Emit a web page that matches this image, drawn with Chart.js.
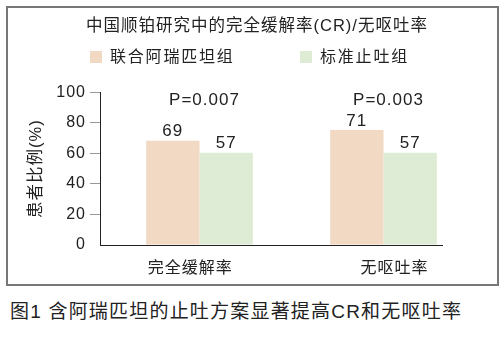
<!DOCTYPE html>
<html>
<head>
<meta charset="utf-8">
<script src="https://cdn.jsdelivr.net/npm/chart.js@4/dist/chart.umd.min.js"></script>
<style>
  html, body { margin: 0; padding: 0; background: #fff; width: 504px; height: 357px; overflow: hidden; }
  body { position: relative; font-family: "Liberation Sans", "Noto Sans CJK SC", sans-serif; color: #222; }
  #frame { position: absolute; left: 6px; top: 6px; width: 489px; height: 276px; border: 2px solid #777; }
  #wrap { position: absolute; left: 8px; top: 8px; width: 498px; height: 276px; }
  #legend { position: absolute; left: 90px; top: 47px; display: flex; }
  #legend .item { width: 210px; display: flex; align-items: center; height: 20px; }
  #legend .box { display: inline-block; width: 12px; height: 12px; margin-right: 8px; }
  #legend .txt { font-size: 16px; letter-spacing: 1.8px; line-height: 20px; color: #222; }
  #caption { position: absolute; left: 10px; top: 300px; font-size: 19px; line-height: 24px; letter-spacing: 1.2px; color: #222; white-space: nowrap; }
</style>
</head>
<body>
<div id="frame"></div>
<div id="wrap"><canvas id="c" width="498" height="276"></canvas></div>
<div id="legend"></div>
<div id="caption">图1 含阿瑞匹坦的止吐方案显著提高CR和无呕吐率</div>
<script>
// ---- data ----
const categories = ['完全缓解率', '无呕吐率'];
const seriesNames = ['联合阿瑞匹坦组', '标准止吐组'];
const aprepitantValues = [68.3, 75.3];   // bar heights as drawn
const standardValues = [60.4, 60.4];
const aprepitantLabels = ['69', '71'];   // printed value labels
const standardLabels = ['57', '57'];
const pValueLabels = ['P=0.007', 'P=0.003'];
const yTickValues = [0, 20, 40, 60, 80, 100];
const chartTitle = '中国顺铂研究中的完全缓解率(CR)/无呕吐率';
const yTitle = '患者比例(%)';

const FONT = '"Liberation Sans", "Noto Sans CJK SC", sans-serif';
const TEXT = '#222';
const seriesColors = ['#F2D9C4', '#DFECD5'];
const valueLabels = [aprepitantLabels, standardLabels];
const labelNudge = [-0.05, 0.06];   // category label offset (style)

const spacing = {
  id: 'spacing',
  beforeLayout(chart) { chart.ctx.letterSpacing = '1px'; },
  beforeDraw(chart) { chart.ctx.letterSpacing = '1px'; }
};

const htmlLegend = {
  id: 'htmlLegend',
  afterUpdate(chart) {
    const el = document.getElementById('legend');
    el.innerHTML = '';
    const items = chart.options.plugins.legend.labels.generateLabels(chart);
    items.forEach(it => {
      const d = document.createElement('div'); d.className = 'item';
      const b = document.createElement('span'); b.className = 'box'; b.style.background = it.fillStyle;
      const t = document.createElement('span'); t.className = 'txt'; t.textContent = it.text;
      d.appendChild(b); d.appendChild(t); el.appendChild(d);
    });
  }
};

const annotations = {
  id: 'annotations',
  afterDatasetsDraw(chart) {
    const ctx = chart.ctx;
    ctx.save();
    ctx.letterSpacing = '1px';
    ctx.fillStyle = TEXT;
    ctx.font = '17px ' + FONT;
    ctx.textAlign = 'center';
    ctx.textBaseline = 'alphabetic';
    chart.data.datasets.forEach((ds, i) => {
      const meta = chart.getDatasetMeta(i);
      meta.data.forEach((bar, j) => {
        ctx.fillText(valueLabels[i][j], bar.x, bar.y - 4.5);
      });
    });
    const xs = chart.scales.x, ys = chart.scales.y;
    pValueLabels.forEach((p, j) => {
      ctx.fillText(p, xs.getPixelForValue(j) + 5, ys.getPixelForValue(ys.max) + 12.7);
    });
    ctx.restore();
  }
};

new Chart(document.getElementById('c'), {
  type: 'bar',
  data: {
    datasets: [
      { label: seriesNames[0], data: aprepitantValues.map((v, i) => ({ x: i, y: v })), backgroundColor: seriesColors[0], borderWidth: 0 },
      { label: seriesNames[1], data: standardValues.map((v, i) => ({ x: i, y: v })), backgroundColor: seriesColors[1], borderWidth: 0 }
    ]
  },
  options: {
    responsive: false,
    animation: false,
    devicePixelRatio: 1,
    categoryPercentage: 0.58,
    barPercentage: 1,
    layout: { padding: { left: 0, right: 0, top: 0, bottom: 0 } },
    plugins: {
      legend: { display: false },
      tooltip: { enabled: false },
      title: {
        display: true, text: chartTitle, color: TEXT,
        font: { family: FONT, size: 16.5, weight: 'normal' },
        padding: { top: 8.8, bottom: 55.7 }
      }
    },
    scales: {
      x: {
        type: 'linear', min: -0.5408, max: 1.3179, offset: false,
        afterFit(s) { s.height = 39; },
        afterBuildTicks(s) { s.ticks = categories.map((_, i) => ({ value: i + labelNudge[i] })); },
        grid: { display: false },
        border: { display: true, color: '#222', width: 1 },
        ticks: {
          callback: (v, idx) => categories[idx], autoSkip: false, maxRotation: 0,
          color: TEXT, padding: 6, font: { family: FONT, size: 16 }
        }
      },
      y: {
        min: 0, max: 100,
        afterFit(s) { s.width = 92; },
        afterBuildTicks(s) { s.ticks = yTickValues.map(v => ({ value: v })); },
        grid: {
          drawOnChartArea: false, drawTicks: true, tickLength: 10,
          color: (c) => (c.tick && c.tick.value === 0) ? 'rgba(0,0,0,0)' : '#999',
          tickColor: (c) => (c.tick && c.tick.value === 0) ? 'rgba(0,0,0,0)' : '#999'
        },
        border: { display: true, color: '#222', width: 1 },
        ticks: { color: TEXT, padding: 4, font: { family: FONT, size: 16 } },
        title: {
          display: true, text: yTitle, color: TEXT,
          font: { family: FONT, size: 16.5 }, padding: { top: 19, bottom: 0 }
        }
      },
      spacer: {
        type: 'linear', position: 'right', display: true,
        afterFit(s) { s.width = 64; },
        grid: { display: false },
        border: { display: false },
        ticks: { display: false }
      }
    }
  },
  plugins: [spacing, htmlLegend, annotations]
});
</script>
</body>
</html>
